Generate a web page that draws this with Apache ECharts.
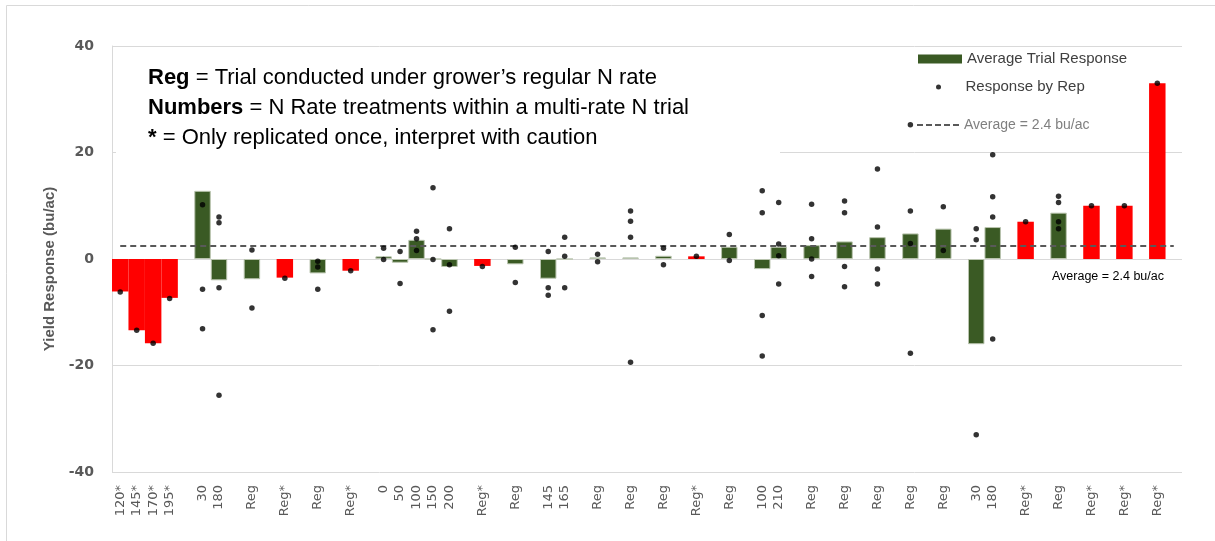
<!DOCTYPE html>
<html>
<head>
<meta charset="utf-8">
<script src="https://cdn.jsdelivr.net/npm/echarts@6/dist/echarts.min.js"></script>
<style>
html,body{margin:0;padding:0;background:#fff}
#main{width:1215px;height:541px}
</style>
</head>
<body>
<div id="main"></div>
<script>
// one slot per bar, '' = spacer between trials
const labels = ['120*','145*','170*','195*','','30','180','','Reg','','Reg*','','Reg','','Reg*','',
  '0','50','100','150','200','','Reg*','','Reg','','145','165','','Reg','','Reg','','Reg','','Reg*','',
  'Reg','','100','210','','Reg','','Reg','','Reg','','Reg','','Reg','','30','180','','Reg*','','Reg','',
  'Reg*','','Reg*','','Reg*',''];

// average trial response (bu/ac), null for spacers
const avgResponse = [-6.1,-13.4,-15.8,-7.3,null,12.8,-4.0,null,-3.8,null,-3.5,null,-2.7,null,-2.2,null,
  0.5,-0.7,3.6,0.0,-1.5,null,-1.3,null,-1.0,null,-3.7,0.0,null,0.3,null,0.3,null,0.6,null,0.5,null,
  2.3,null,-1.9,2.3,null,2.6,null,3.3,null,4.1,null,4.8,null,5.7,null,-16.0,6.0,null,7.0,null,8.7,null,
  10.0,null,10.0,null,33.0,null];

// response by rep, per slot
const repResponse = [[-6.2],[-13.4],[-15.8],[-7.4],[],[10.2,-5.7,-13.1],[7.9,6.8,-5.4,-25.6],[],
  [1.7,-9.2],[],[-3.6],[],[-0.4,-1.5,-5.7],[],[-2.2],[],
  [2.0,-0.1],[1.4,-4.6],[5.2,3.8,1.6],[13.4,-0.1,-13.3],[5.7,-1.1,-9.8],[],[-1.4],[],[2.2,-4.4],[],
  [1.4,-5.4,-6.8],[4.1,0.5,-5.4],[],[0.9,-0.5],[],[9.0,7.1,4.1,-19.4],[],[2.0,-1.1],[],[0.5],[],
  [4.6,-0.3],[],[12.8,8.7,-10.6,-18.2],[10.6,2.8,0.6,-4.7],[],[10.3,3.8,0.0,-3.3],[],
  [10.9,8.7,-1.4,-5.2],[],[16.9,6.0,-1.9,-4.7],[],[25.2,9.0,2.9,-17.7],[],[9.8,1.6],[],
  [5.7,3.6,-33.0],[19.6,11.7,7.9,-15.0],[],[7.0],[],[11.8,10.6,7.0,5.7],[],[10.0],[],[10.0],[],[33.0],[]];

const overallAvg = 2.4;
const avgText = 'Average = ' + overallAvg + ' bu/ac';

const GREEN = '#3a5a24';
const RED = '#ff0000';

let barData = avgResponse.map(function(v, i){
  if (v === null) return '-';
  let once = labels[i].indexOf('*') >= 0;
  return {
    value: v,
    itemStyle: once ? {color: RED, borderWidth: 0} : {color: GREEN, borderColor: '#b9c4ae', borderWidth: 1}
  };
});

let repData = [];
repResponse.forEach(function(list, i){
  list.forEach(function(v){ repData.push([i, v]); });
});

let chart = echarts.init(document.getElementById('main'));
let option = {
  animation: false,
  grid: {left: 112, right: 33, top: 46, bottom: 69},
  legend: [{
    data: [{name: 'Average Trial Response', icon: 'rect'}],
    orient: 'vertical', left: 918, top: 50, padding: 0,
    itemWidth: 44, itemHeight: 9, selectedMode: false,
    itemStyle: {borderWidth: 0},
    textStyle: {color: '#404040', fontSize: 15, fontFamily: 'Liberation Sans', lineHeight: 18}
  }, {
    data: [{name: 'Response by Rep', icon: 'circle'}],
    orient: 'vertical', left: 936, top: 78, padding: 0,
    itemWidth: 44, itemHeight: 5, selectedMode: false,
    textStyle: {color: '#404040', fontSize: 15, fontFamily: 'Liberation Sans', lineHeight: 18}
  }, {
    data: [{name: avgText, icon: 'path://M0,0h6v2h-6zM9,0h6v2h-6zM18,0h6v2h-6zM27,0h6v2h-6zM36,0h6v2h-6z'}],
    orient: 'vertical', left: 917, top: 116, padding: 0,
    itemWidth: 42, itemHeight: 2, selectedMode: false,
    textStyle: {color: '#7f7f7f', fontSize: 14, fontFamily: 'Liberation Sans', lineHeight: 18}
  }],
  xAxis: {
    type: 'category',
    data: labels,
    axisLine: {show: false, onZero: false},
    axisTick: {show: false},
    splitLine: {show: false},
    axisLabel: {interval: 0, rotate: 90, margin: 13, color: '#595959', fontFamily: 'DejaVu Sans', fontSize: 13}
  },
  yAxis: {
    type: 'value',
    min: -40, max: 40, interval: 20,
    name: 'Yield Response (bu/ac)',
    nameLocation: 'middle',
    nameGap: 50,
    nameTextStyle: {color: '#595959', fontWeight: 'bold', fontSize: 15, fontFamily: 'Liberation Sans', padding: [0, 20, 0, 0]},
    axisLine: {show: true, lineStyle: {color: '#d9d9d9'}},
    axisTick: {show: false},
    splitLine: {lineStyle: {color: '#d9d9d9'}},
    axisLabel: {margin: 18, color: '#595959', fontWeight: 'bold', fontFamily: 'DejaVu Sans', fontSize: 14}
  },
  series: [{
    name: 'Average Trial Response',
    type: 'bar',
    data: barData,
    barCategoryGap: '0%',
    itemStyle: {color: GREEN}
  }, {
    name: avgText,
    type: 'line',
    data: [],
    symbol: 'none',
    itemStyle: {color: '#595959'},
    lineStyle: {color: '#595959', width: 2, type: [6, 4]},
    markLine: {
      silent: true,
      symbol: ['none', 'none'],
      label: {show: false},
      lineStyle: {color: '#595959', width: 2, type: [6, 4]},
      data: [[{coord: [0, overallAvg]}, {coord: [labels.length - 1, overallAvg]}]]
    }
  }, {
    name: 'Response by Rep',
    type: 'scatter',
    data: repData,
    symbolSize: 5.5,
    itemStyle: {color: '#000'},
    z: 5
  }],
  graphic: [{
    type: 'rect',
    shape: {x: 6.5, y: 5.5, width: 1400, height: 800},
    style: {fill: 'none', stroke: '#d9d9d9', lineWidth: 1},
    silent: true
  }, {
    type: 'rect',
    shape: {x: 116, y: 56, width: 664, height: 100},
    style: {fill: '#fff'},
    silent: true,
    z: 5
  }, {
    type: 'text',
    x: 148, y: 63,
    silent: true,
    z: 6,
    style: {
      text: '{b|Reg} = Trial conducted under grower\u2019s regular N rate\n' +
            '{b|Numbers} = N Rate treatments within a multi-rate N trial\n' +
            '{b|*} = Only replicated once, interpret with caution',
      fill: '#000', fontSize: 22, fontFamily: 'Liberation Sans', lineHeight: 30,
      rich: {b: {fontWeight: 'bold', fontSize: 22, fontFamily: 'Liberation Sans', lineHeight: 30, fill: '#000'}}
    }
  }, {
    type: 'text',
    x: 1164, y: 277,
    silent: true,
    z: 6,
    style: {text: avgText, fill: '#000', fontSize: 12.5, fontFamily: 'Liberation Sans', align: 'right', verticalAlign: 'middle'}
  }]
};
chart.setOption(option);
</script>
</body>
</html>
